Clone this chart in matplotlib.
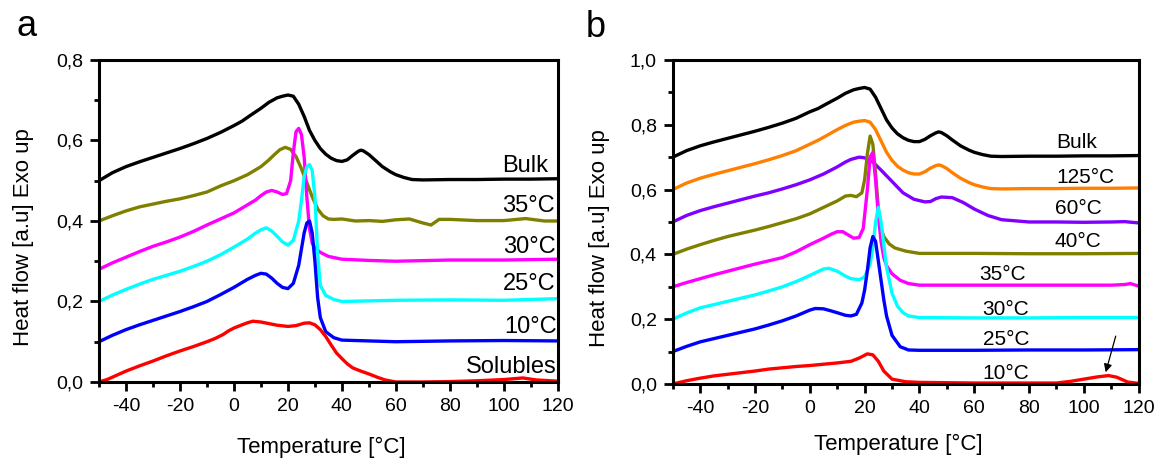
import matplotlib
matplotlib.use("Agg")
import matplotlib.pyplot as plt
from matplotlib.ticker import MultipleLocator, FuncFormatter

plt.rcParams['font.family'] = ['Liberation Sans', 'DejaVu Sans']
plt.rcParams['axes.unicode_minus'] = False

# ---- panel a: DSC curves (temperature, heat flow) ----
a_bulk_x = [-50, -45, -40, -35, -30, -25, -20, -15, -10, -5, 0, 3, 6, 10, 13, 16, 18, 20, 22, 24, 26, 28, 30, 32, 34, 36, 38, 40, 42, 44, 46, 47, 48, 50, 52, 55, 58, 60, 63, 66, 70, 80, 90, 100, 110, 120]
a_bulk_y = [0.50, 0.52, 0.535, 0.547, 0.558, 0.569, 0.58, 0.592, 0.605, 0.62, 0.637, 0.648, 0.662, 0.68, 0.695, 0.706, 0.71, 0.713, 0.71, 0.69, 0.66, 0.625, 0.60, 0.58, 0.566, 0.556, 0.55, 0.548, 0.552, 0.563, 0.573, 0.576, 0.574, 0.565, 0.553, 0.535, 0.522, 0.515, 0.508, 0.503, 0.502, 0.503, 0.503, 0.504, 0.504, 0.505]

a_35_x = [-50, -45, -40, -35, -30, -25, -20, -15, -10, -5, 0, 5, 10, 13, 15, 17, 19, 21, 23, 25, 27, 29, 31, 33, 35, 37, 40, 45, 50, 55, 60, 65, 70, 73, 76, 80, 90, 100, 108, 115, 120]
a_35_y = [0.40, 0.413, 0.425, 0.435, 0.442, 0.449, 0.455, 0.463, 0.472, 0.487, 0.50, 0.515, 0.535, 0.552, 0.565, 0.577, 0.583, 0.578, 0.56, 0.53, 0.495, 0.46, 0.43, 0.413, 0.405, 0.404, 0.405, 0.40, 0.401, 0.399, 0.403, 0.405, 0.395, 0.39, 0.404, 0.404, 0.401, 0.401, 0.406, 0.40, 0.40]

a_30_x = [-50, -45, -40, -35, -30, -25, -20, -15, -10, -5, 0, 5, 8, 10, 12, 14, 16, 18, 19.5, 21, 22, 23, 24, 25, 26, 27, 28, 29, 30, 32, 35, 40, 50, 60, 80, 100, 120]
a_30_y = [0.28, 0.296, 0.31, 0.324, 0.337, 0.348, 0.36, 0.374, 0.39, 0.405, 0.42, 0.44, 0.452, 0.463, 0.472, 0.476, 0.472, 0.466, 0.468, 0.50, 0.57, 0.622, 0.63, 0.615, 0.56, 0.46, 0.38, 0.345, 0.333, 0.322, 0.312, 0.305, 0.302, 0.30, 0.303, 0.303, 0.305]

a_25_x = [-50, -45, -40, -35, -30, -25, -20, -15, -10, -5, 0, 5, 8, 10, 12, 14, 16, 18, 20, 22, 24, 25, 26, 27, 28, 29, 30, 31, 32, 34, 37, 40, 60, 80, 100, 120]
a_25_y = [0.20, 0.216, 0.23, 0.243, 0.255, 0.265, 0.275, 0.287, 0.30, 0.316, 0.335, 0.355, 0.37, 0.378, 0.383, 0.375, 0.362, 0.348, 0.34, 0.352, 0.40, 0.45, 0.51, 0.535, 0.54, 0.525, 0.46, 0.32, 0.24, 0.215, 0.205, 0.20, 0.203, 0.204, 0.203, 0.207]

a_10_x = [-50, -45, -40, -35, -30, -25, -20, -15, -10, -5, 0, 5, 8, 10, 12, 14, 16, 18, 20, 22, 24, 25, 26, 27, 28, 29, 30, 31, 32, 34, 37, 40, 60, 80, 100, 120]
a_10_y = [0.10, 0.116, 0.13, 0.142, 0.153, 0.164, 0.175, 0.187, 0.20, 0.217, 0.235, 0.255, 0.265, 0.27, 0.268, 0.258, 0.245, 0.235, 0.232, 0.245, 0.29, 0.33, 0.37, 0.395, 0.40, 0.37, 0.30, 0.21, 0.16, 0.125, 0.11, 0.104, 0.10, 0.102, 0.103, 0.102]

a_sol_x = [-50, -47, -44, -40, -35, -30, -25, -20, -15, -10, -7, -4, -2, 0, 3, 5, 7, 10, 13, 16, 20, 23, 26, 28, 30, 32, 34, 36, 38, 40, 42, 44, 47, 50, 53, 56, 60, 70, 80, 90, 100, 107, 112, 120]
a_sol_y = [0.0, 0.006, 0.015, 0.027, 0.04, 0.052, 0.065, 0.077, 0.088, 0.10, 0.108, 0.118, 0.127, 0.134, 0.142, 0.147, 0.151, 0.149, 0.145, 0.141, 0.138, 0.14, 0.146, 0.147, 0.142, 0.13, 0.113, 0.092, 0.072, 0.058, 0.045, 0.035, 0.027, 0.02, 0.012, 0.005, 0.0, 0.0, 0.001, 0.003, 0.006, 0.01, 0.005, 0.002]

# ---- panel b ----
b_bulk_x = [-50, -45, -40, -35, -30, -25, -20, -15, -10, -5, 0, 3, 6, 10, 13, 16, 18, 20, 22, 24, 26, 28, 30, 32, 34, 36, 38, 40, 42, 44, 46, 47, 48, 50, 52, 55, 58, 60, 63, 66, 70, 80, 90, 100, 110, 120]
b_bulk_y = [0.70, 0.72, 0.735, 0.747, 0.758, 0.769, 0.78, 0.792, 0.805, 0.82, 0.84, 0.85, 0.864, 0.882, 0.897, 0.908, 0.912, 0.915, 0.91, 0.885, 0.85, 0.815, 0.79, 0.772, 0.76, 0.752, 0.748, 0.748, 0.755, 0.766, 0.775, 0.778, 0.776, 0.766, 0.753, 0.735, 0.722, 0.715, 0.708, 0.703, 0.702, 0.703, 0.703, 0.704, 0.704, 0.705]

b_125_x = [-50, -45, -40, -35, -30, -25, -20, -15, -10, -5, 0, 3, 6, 10, 13, 16, 18, 20, 22, 24, 26, 28, 30, 32, 34, 36, 38, 40, 42, 44, 46, 47, 48, 50, 52, 55, 58, 60, 63, 66, 70, 80, 90, 100, 110, 120]
b_125_y = [0.60, 0.62, 0.635, 0.647, 0.658, 0.669, 0.68, 0.692, 0.705, 0.72, 0.74, 0.752, 0.766, 0.785, 0.798, 0.808, 0.811, 0.813, 0.808, 0.785, 0.75, 0.715, 0.69, 0.672, 0.66, 0.652, 0.648, 0.648, 0.655, 0.666, 0.674, 0.676, 0.674, 0.665, 0.652, 0.635, 0.622, 0.615, 0.608, 0.603, 0.602, 0.603, 0.603, 0.604, 0.604, 0.605]

b_60_x = [-50, -45, -40, -35, -30, -25, -20, -15, -10, -5, 0, 5, 10, 13, 15, 18, 20, 23, 26, 30, 34, 38, 42, 44, 46, 48, 52, 56, 60, 65, 70, 80, 90, 100, 110, 115, 120]
b_60_y = [0.50, 0.52, 0.535, 0.547, 0.558, 0.569, 0.58, 0.59, 0.602, 0.615, 0.63, 0.648, 0.67, 0.685, 0.693, 0.70, 0.698, 0.685, 0.66, 0.625, 0.59, 0.57, 0.562, 0.563, 0.572, 0.577, 0.575, 0.56, 0.54, 0.52, 0.507, 0.50, 0.50, 0.499, 0.50, 0.501, 0.497]

b_40_x = [-50, -45, -40, -35, -30, -25, -20, -15, -10, -5, 0, 5, 10, 13, 15, 17, 19, 20, 21, 22, 23, 24, 25, 26, 27, 29, 31, 35, 40, 60, 80, 100, 120]
b_40_y = [0.40, 0.416, 0.43, 0.443, 0.455, 0.465, 0.475, 0.486, 0.498, 0.51, 0.525, 0.545, 0.565, 0.58, 0.582, 0.578, 0.59, 0.63, 0.71, 0.765, 0.74, 0.65, 0.54, 0.48, 0.455, 0.432, 0.42, 0.41, 0.403, 0.403, 0.402, 0.402, 0.403]

b_35_x = [-50, -45, -40, -35, -30, -25, -20, -15, -10, -5, 0, 5, 8, 10, 12, 14, 16, 18, 19.5, 21, 22, 23, 24, 25, 26, 27, 28, 30, 33, 36, 40, 60, 80, 100, 110, 115, 117, 120]
b_35_y = [0.30, 0.313, 0.325, 0.337, 0.348, 0.359, 0.37, 0.38, 0.39, 0.408, 0.43, 0.45, 0.463, 0.47, 0.47, 0.46, 0.45, 0.452, 0.48, 0.60, 0.70, 0.715, 0.63, 0.52, 0.44, 0.39, 0.365, 0.34, 0.32, 0.31, 0.305, 0.305, 0.305, 0.305, 0.305, 0.307, 0.31, 0.302]

b_30_x = [-50, -45, -40, -35, -30, -25, -20, -15, -10, -5, 0, 5, 7, 10, 13, 15, 18, 20, 22, 23, 24, 25, 26, 27, 28, 30, 32, 34, 36, 40, 60, 80, 100, 120]
b_30_y = [0.20, 0.219, 0.235, 0.245, 0.255, 0.265, 0.275, 0.287, 0.30, 0.316, 0.335, 0.355, 0.357, 0.348, 0.333, 0.325, 0.322, 0.33, 0.37, 0.42, 0.50, 0.545, 0.50, 0.43, 0.36, 0.28, 0.24, 0.22, 0.21, 0.205, 0.204, 0.204, 0.205, 0.205]

b_25_x = [-50, -45, -40, -35, -30, -25, -20, -15, -10, -5, 0, 2, 5, 8, 10, 13, 15, 17, 19, 20, 21, 22, 23, 24, 25, 26, 27, 28, 30, 33, 36, 40, 60, 80, 100, 120]
b_25_y = [0.10, 0.116, 0.13, 0.14, 0.15, 0.16, 0.17, 0.182, 0.195, 0.21, 0.228, 0.233, 0.232, 0.225, 0.22, 0.212, 0.21, 0.215, 0.25, 0.29, 0.35, 0.42, 0.455, 0.44, 0.38, 0.32, 0.26, 0.21, 0.15, 0.115, 0.105, 0.104, 0.104, 0.105, 0.105, 0.106]

b_10_x = [-50, -45, -40, -35, -30, -25, -20, -15, -10, -5, 0, 5, 10, 15, 18, 21, 23, 25, 27, 30, 35, 40, 60, 80, 90, 95, 100, 105, 109, 112, 116, 120]
b_10_y = [0.0, 0.01, 0.018, 0.025, 0.03, 0.035, 0.04, 0.046, 0.05, 0.054, 0.057, 0.061, 0.065, 0.07, 0.08, 0.093, 0.09, 0.07, 0.04, 0.015, 0.007, 0.005, 0.003, 0.003, 0.003, 0.008, 0.015, 0.022, 0.026, 0.021, 0.006, 0.002]

colors = {'black': '#000000', 'olive': '#808000', 'magenta': '#FF00FF', 'cyan': '#00FFFF',
          'blue': '#0000FF', 'red': '#FF0000', 'orange': '#FF8000', 'purple': '#8000FF'}

series_a = [(a_bulk_x, a_bulk_y, 'black'), (a_35_x, a_35_y, 'olive'), (a_30_x, a_30_y, 'magenta'),
            (a_25_x, a_25_y, 'cyan'), (a_10_x, a_10_y, 'blue'), (a_sol_x, a_sol_y, 'red')]
# label text, right edge x, baseline y
labels_a = [("Bulk", 116.3, 0.522), ("35°C", 118.9, 0.423), ("30°C", 119.3, 0.32),
            ("25°C", 119.3, 0.229), ("10°C", 119.8, 0.121), ("Solubles", 119.6, 0.022)]

series_b = [(b_bulk_x, b_bulk_y, 'black'), (b_125_x, b_125_y, 'orange'), (b_60_x, b_60_y, 'purple'),
            (b_40_x, b_40_y, 'olive'), (b_35_x, b_35_y, 'magenta'), (b_30_x, b_30_y, 'cyan'),
            (b_25_x, b_25_y, 'blue'), (b_10_x, b_10_y, 'red')]
# label text, left edge x, baseline y
labels_b = [("Bulk", 90.1, 0.727), ("125°C", 90.1, 0.621), ("60°C", 89.4, 0.524), ("40°C", 89.4, 0.424),
            ("35°C", 62.0, 0.321), ("30°C", 62.8, 0.213), ("25°C", 63.1, 0.120), ("10°C", 62.8, 0.0145)]

comma = FuncFormatter(lambda v, p: f"{v:.1f}".replace('.', ','))

fig = plt.figure(figsize=(11.56, 4.59), dpi=100)
ax_a = fig.add_axes([0.0856, 0.1678, 0.397, 0.7015])
ax_b = fig.add_axes([0.582, 0.1634, 0.403, 0.706])


def style(ax, ymax, xlab_y, ylab_x):
    ax.set_xlim(-50, 120)
    ax.set_ylim(0, ymax)
    ax.xaxis.set_major_locator(MultipleLocator(20))
    ax.xaxis.set_minor_locator(MultipleLocator(10))
    ax.yaxis.set_major_locator(MultipleLocator(0.2))
    ax.yaxis.set_minor_locator(MultipleLocator(0.1))
    ax.yaxis.set_major_formatter(comma)
    for s in ax.spines.values():
        s.set_linewidth(2.2)
    ax.tick_params(which='major', direction='out', length=6.5, width=2, labelsize=14, pad=5)
    ax.tick_params(which='minor', direction='out', length=3.5, width=2)
    ax.set_xlabel("Temperature [°C]", fontsize=16)
    ax.set_ylabel("Heat flow [a.u] Exo up", fontsize=16)
    ax.xaxis.set_label_coords(0.485, xlab_y)
    ax.yaxis.set_label_coords(ylab_x, 0.45)


for x, y, c in series_a:
    ax_a.plot(x, y, color=colors[c], lw=2.4, solid_joinstyle='round')
for t, x, y in labels_a:
    ax_a.text(x, y, t, fontsize=17, ha='right', va='baseline')
style(ax_a, 0.8, -0.172, -0.1416)

for x, y, c in series_b:
    ax_b.plot(x, y, color=colors[c], lw=2.4, solid_joinstyle='round')
for t, x, y in labels_b:
    ax_b.text(x, y, t, fontsize=15, ha='left', va='baseline')
style(ax_b, 1.0, -0.155, -0.135)
ax_b.annotate("", xy=(107.7, 0.028), xytext=(111.9, 0.156),
              arrowprops=dict(arrowstyle='-|>', color='black', lw=0.9, mutation_scale=12))

fig.text(0.0145, 0.943, "a", fontsize=26, va='center')
fig.text(0.507, 0.94, "b", fontsize=26, va='center')

fig.savefig("out.png", dpi=100)
